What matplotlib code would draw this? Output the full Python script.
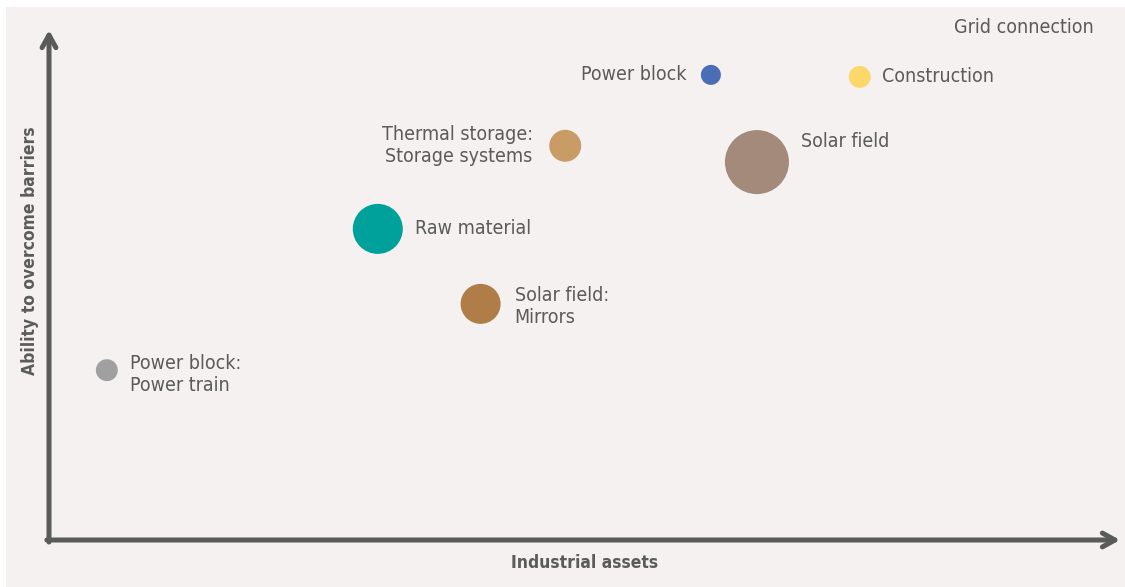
import matplotlib.pyplot as plt
from matplotlib.patches import Rectangle

# bubble data (x = industrial assets, y = ability to overcome barriers, value = bubble area)
names = ["Power block:\nPower train", "Raw material", "Solar field:\nMirrors",
         "Thermal storage:\nStorage systems", "Power block", "Solar field",
         "Construction", "Grid connection"]
x_vals = [5.4, 30.7, 40.3, 48.2, 61.8, 66.1, 75.7, 84.8]
y_vals = [33.3, 61.0, 46.3, 77.3, 91.2, 74.1, 90.8, 100.4]
values = [4.8, 25, 16, 10.2, 4.0, 41, 4.8, 0]
colors = ["#a0a0a0", "#00a19a", "#b07d48", "#c99c66", "#4a6db5", "#a38a7a",
          "#fcd86b", "#f4f1f0"]

# label placement: offset in points, horizontal alignment
label_pos = [(9, -3, "left"), (9, 0, "left"), (10, -2, "left"), (-12, 0, "right"),
             (-10, 0, "right"), (9, 15, "left"), (8, 0, "left"), (-2, 0, "left")]

font = ["DejaVu Sans"]
txt_col = "#5b5b5b"
axis_col = "#5a5a5a"

fig = plt.figure(figsize=(11.25, 5.87), dpi=100, facecolor="white")
fig.patches.append(Rectangle((6 / 1125, 0), 1, 1 - 7 / 587, transform=fig.transFigure,
                             facecolor="#f4f1f0", edgecolor="none", zorder=-5))

ax = fig.add_axes([49 / 1125, 47 / 587, 1071 / 1125, 510 / 587])
ax.set_facecolor("none")
ax.set_xlim(0, 100)
ax.set_ylim(0, 100)
for s in ax.spines.values():
    s.set_visible(False)
ax.set_xticks([])
ax.set_yticks([])

k = (0.72 * 10) ** 2
ax.scatter(x_vals, y_vals, s=[v * k for v in values], c=colors, edgecolors="none",
           zorder=3, clip_on=False)

for n, x, y, v, (dx, dy, ha) in zip(names, x_vals, y_vals, values, label_pos):
    r = 5 * v ** 0.5 * 0.72
    off = r + dx if ha == "left" else -r + dx
    ax.annotate(n, (x, y), xytext=(off, dy), textcoords="offset points",
                ha=ha, va="center", fontsize=14, color=txt_col, family=font,
                stretch="condensed", linespacing=1.2, annotation_clip=False)

# axis arrows
arrow = dict(arrowstyle="->,head_length=0.9,head_width=0.5", color=axis_col,
             lw=3.6, shrinkA=0, shrinkB=0)
ax.annotate("", xy=(0, 1.0), xytext=(0, -0.004), xycoords="axes fraction",
            arrowprops=arrow, annotation_clip=False)
ax.annotate("", xy=(1.0, 0), xytext=(-0.002, 0), xycoords="axes fraction",
            arrowprops=arrow, annotation_clip=False)

fig.text(585 / 1125, 1 - 563 / 587, "Industrial assets", ha="center", va="center",
         fontsize=12.5, fontweight="bold", color=txt_col, family=font, stretch="condensed")
fig.text(30 / 1125, 1 - 251 / 587, "Ability to overcome barriers", ha="center",
         va="center", rotation=90, fontsize=12.5, fontweight="bold", color=txt_col,
         family=font, stretch="condensed")

fig.savefig("out.png", dpi=100, facecolor="white")
